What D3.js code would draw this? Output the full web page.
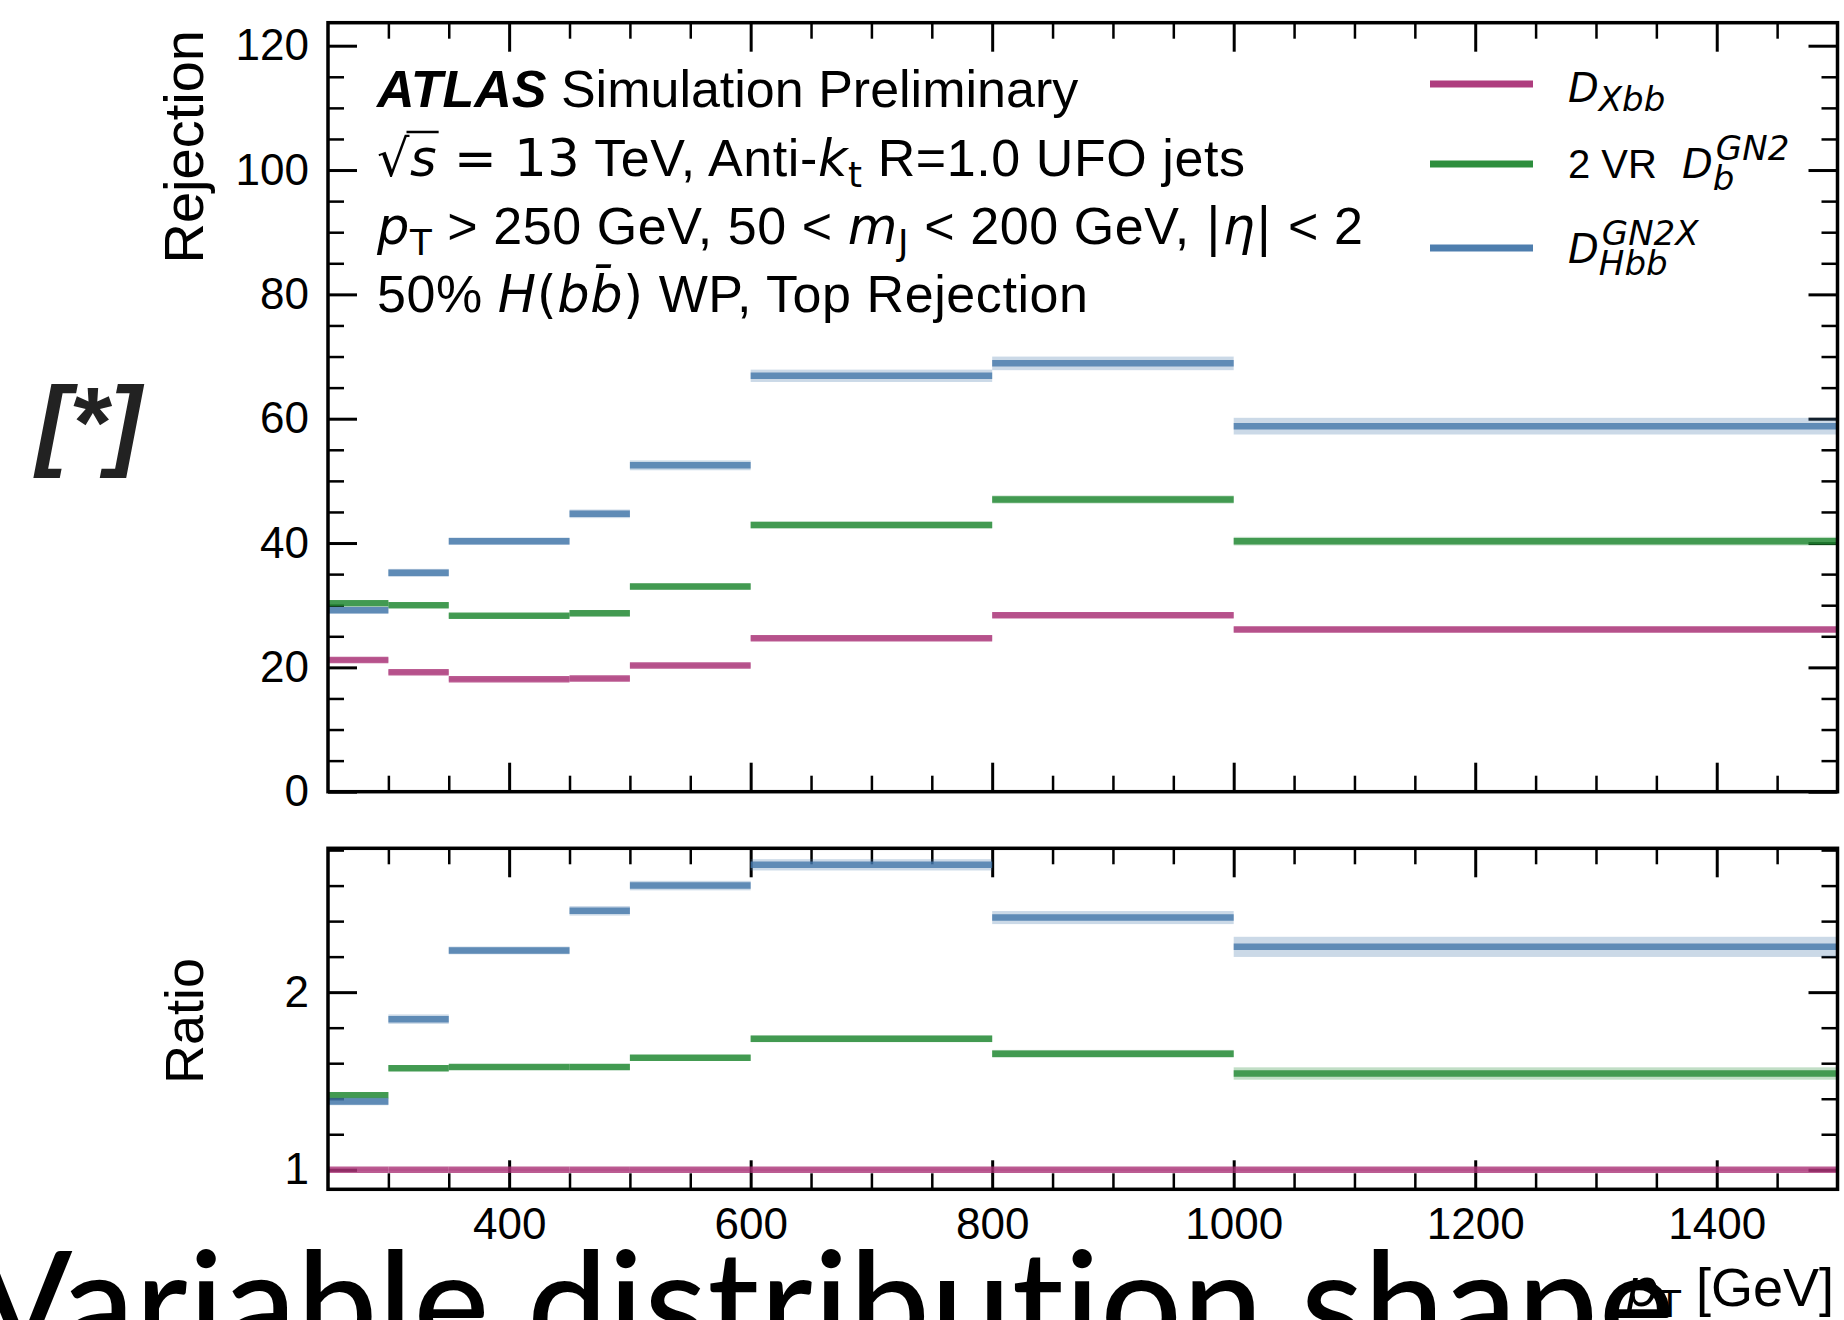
<!DOCTYPE html>
<html><head><meta charset="utf-8">
<script src="https://cdn.jsdelivr.net/npm/d3@7"></script>
<style>
body{margin:0;background:#fff}
svg{display:block}
text{font-family:"Liberation Sans",Arial,Helvetica,sans-serif;fill:#000}
</style>
</head><body>
<svg id="c" width="1844" height="1320"></svg>
<script>
// ---------------- data ----------------
const binEdges = [250, 300, 350, 450, 500, 600, 800, 1000, 1500];
const seriesLabels = ["Dxbb", "GN2", "GN2X"];
const seriesColors = ["#AA3377", "#228833", "#4477AA"];

const rejDxbb = [21.2, 19.2, 18.1, 18.2, 20.3, 24.7, 28.4, 26.1];
const rejGN2  = [30.3, 30.0, 28.3, 28.7, 33.0, 42.9, 47.0, 40.3];
const rejGN2X = [29.2, 35.2, 40.3, 44.7, 52.5, 66.9, 68.9, 58.8];

const errDxbb = [0.15, 0.15, 0.1, 0.15, 0.15, 0.2, 0.25, 0.25];
const errGN2  = [0.25, 0.25, 0.2, 0.3, 0.3, 0.35, 0.45, 0.5];
const errGN2X = [0.35, 0.45, 0.4, 0.5, 0.6, 0.8, 0.9, 1.15];

const ratioDxbb = [1, 1, 1, 1, 1, 1, 1, 1];
const ratioGN2  = [1.42, 1.572, 1.578, 1.578, 1.630, 1.737, 1.653, 1.542];
const ratioGN2X = [1.385, 1.848, 2.235, 2.458, 2.600, 2.717, 2.420, 2.255];

const ratioErrDxbb = [0, 0, 0, 0, 0, 0, 0, 0];
const ratioErrGN2  = [0.01, 0.01, 0.008, 0.01, 0.01, 0.012, 0.015, 0.028];
const ratioErrGN2X = [0.015, 0.02, 0.015, 0.02, 0.02, 0.025, 0.03, 0.05];

const xMajorTicks = [400, 600, 800, 1000, 1200, 1400];
const xMinorTicks = [300, 350, 450, 500, 550, 650, 700, 750, 850, 900, 950, 1050, 1100, 1150, 1250, 1300, 1350, 1450];
const yTopMajorTicks = [0, 20, 40, 60, 80, 100, 120];
const yTopMinorTicks = [5, 10, 15, 25, 30, 35, 45, 50, 55, 65, 70, 75, 85, 90, 95, 105, 110, 115];
const yRatioMajorTicks = [1, 2];
const yRatioMinorTicks = [1.2, 1.4, 1.6, 1.8, 2.2, 2.4, 2.6, 2.8];

const xDomain = [250, 1500];
const yTopDomain = [0, 123.7];
const yRatioDomain = [0.89, 2.81];

// ---------------- drawing ----------------
const svg = d3.select("#c");
svg.append("rect").attr("width", 1844).attr("height", 1320).attr("fill", "#fff");

const X0 = 328, X1 = 1837.5;
const x = d3.scaleLinear().domain(xDomain).range([X0, X1]);
const yTop = d3.scaleLinear().domain(yTopDomain).range([791.7, 22.7]);
const yRat = d3.scaleLinear().domain(yRatioDomain).range([1189.3, 848.3]);

const TICK_FS = 44, LABEL_FS = 54;
const MATH = '"DejaVu Sans", sans-serif';

function styleAxis(g, w) {
  g.select(".domain").remove();
  g.selectAll(".tick line").attr("stroke", "#000").attr("stroke-width", w);
  g.selectAll("text").attr("font-size", TICK_FS).attr("fill", "#000")
    .attr("font-family", '"Liberation Sans",Arial,sans-serif');
}

function panel(y, yMaj, yMin, showX) {
  const top = y.range()[1], bot = y.range()[0];
  const ga = svg.append("g");
  ga.append("g").attr("transform", `translate(0,${bot})`)
    .call(d3.axisBottom(x).tickValues(xMajorTicks).tickSize(-29).tickPadding(18.5)
      .tickFormat(showX ? d3.format("d") : () => ""))
    .call(g => styleAxis(g, 3));
  ga.append("g").attr("transform", `translate(0,${bot})`)
    .call(d3.axisBottom(x).tickValues(xMinorTicks).tickSize(-16).tickFormat(() => ""))
    .call(g => styleAxis(g, 2.5));
  ga.append("g").attr("transform", `translate(0,${top})`)
    .call(d3.axisTop(x).tickValues(xMajorTicks).tickSize(-29).tickFormat(() => ""))
    .call(g => styleAxis(g, 3));
  ga.append("g").attr("transform", `translate(0,${top})`)
    .call(d3.axisTop(x).tickValues(xMinorTicks).tickSize(-16).tickFormat(() => ""))
    .call(g => styleAxis(g, 2.5));
  ga.append("g").attr("transform", `translate(${X0},0)`)
    .call(d3.axisLeft(y).tickValues(yMaj).tickSize(-29).tickPadding(19).tickFormat(d3.format("d")))
    .call(g => styleAxis(g, 3));
  ga.append("g").attr("transform", `translate(${X0},0)`)
    .call(d3.axisLeft(y).tickValues(yMin).tickSize(-16).tickFormat(() => ""))
    .call(g => styleAxis(g, 2.5));
  ga.append("g").attr("transform", `translate(${X1},0)`)
    .call(d3.axisRight(y).tickValues(yMaj).tickSize(-29).tickFormat(() => ""))
    .call(g => styleAxis(g, 3));
  ga.append("g").attr("transform", `translate(${X1},0)`)
    .call(d3.axisRight(y).tickValues(yMin).tickSize(-16).tickFormat(() => ""))
    .call(g => styleAxis(g, 2.5));
}

function drawSeries(y, vals, errs, color) {
  const g = svg.append("g");
  const bins = vals.map((v, i) => ({ lo: binEdges[i], hi: binEdges[i + 1], v, e: errs[i] }));
  g.selectAll("rect.band").data(bins).join("rect").attr("class", "band")
    .attr("x", d => x(d.lo)).attr("width", d => x(d.hi) - x(d.lo))
    .attr("y", d => y(d.v + d.e) - 1.2).attr("height", d => y(d.v - d.e) - y(d.v + d.e) + 2.4)
    .attr("fill", color).attr("opacity", 0.28);
  g.selectAll("line.val").data(bins).join("line").attr("class", "val")
    .attr("x1", d => x(d.lo)).attr("x2", d => x(d.hi))
    .attr("y1", d => y(d.v)).attr("y2", d => y(d.v))
    .attr("stroke", color).attr("stroke-width", 6.5).attr("stroke-opacity", 0.8);
}

panel(yTop, yTopMajorTicks, yTopMinorTicks, false);
panel(yRat, yRatioMajorTicks, yRatioMinorTicks, true);

const topVals = [rejDxbb, rejGN2, rejGN2X], topErrs = [errDxbb, errGN2, errGN2X];
const ratVals = [ratioDxbb, ratioGN2, ratioGN2X], ratErrs = [ratioErrDxbb, ratioErrGN2, ratioErrGN2X];
seriesLabels.forEach((s, i) => {
  drawSeries(yTop, topVals[i], topErrs[i], seriesColors[i]);
  drawSeries(yRat, ratVals[i], ratErrs[i], seriesColors[i]);
});

[yTop, yRat].forEach(y => {
  svg.append("rect").attr("x", X0).attr("y", y.range()[1])
    .attr("width", X1 - X0).attr("height", y.range()[0] - y.range()[1])
    .attr("fill", "none").attr("stroke", "#000").attr("stroke-width", 3.5);
});

// rich text helper: segments {t, it, b, sub, sup, m (math font), back, dx}
function rich(parent, px, py, segs, size, anchor, mathSize, scr, fitWidth) {
  const t = parent.append("text").attr("x", px).attr("y", py)
    .attr("font-size", size).attr("text-anchor", anchor || "start");
  let cur = 0, prevLen = 0;
  const ms = mathSize || size, sc = scr || 0.7;
  segs.forEach(s => {
    const sp = t.append("tspan").text(s.t);
    const base = s.m ? ms : size;
    let target = 0, fs = base;
    if (s.sub) { target = base * (s.subShift || 0.22); fs = base * sc; }
    if (s.sup) { target = -base * (s.supShift || 0.42); fs = base * sc; }
    sp.attr("dy", target - cur); cur = target;
    sp.attr("font-size", fs);
    if (s.m) sp.attr("font-family", MATH);
    if (s.it) sp.attr("font-style", "italic");
    if (s.b) sp.attr("font-weight", "bold");
    let dx = s.dx || 0;
    if (s.back) dx -= prevLen;
    if (dx) sp.attr("dx", dx);
    prevLen = sp.node().getComputedTextLength();
  });
  if (fitWidth) t.attr("textLength", fitWidth).attr("lengthAdjust", "spacing");
  return t;
}

// info text
const info = svg.append("g");
const INFO_FS = 52, INFO_M = 51, IX = 377;
const infoWidths = [700, 868, 986, 711];
rich(info, IX, 107, [{ t: "ATLAS", it: 1, b: 1 }, { t: " Simulation Preliminary" }], INFO_FS);
const l2 = rich(info, IX, 176, [
  { t: "\u221A", m: 1 }, { t: "s", it: 1, m: 1 }, { t: " = 13", m: 1 }, { t: " TeV, Anti-" },
  { t: "k", it: 1, m: 1 }, { t: "t", sub: 1, m: 1 }, { t: " R=1.0 UFO jets" }], INFO_FS, null, INFO_M, null, infoWidths[1]);
{
  const n = l2.node();
  const e0 = n.getExtentOfChar(0), e1 = n.getExtentOfChar(1);
  info.append("line").attr("x1", e0.x + e0.width - 3).attr("x2", e1.x + e1.width + 2)
    .attr("y1", e0.y + 3).attr("y2", e0.y + 3)
    .attr("stroke", "#000").attr("stroke-width", 2.4);
}
rich(info, IX, 244, [
  { t: "p", it: 1, m: 1 }, { t: "T", sub: 1, m: 1 }, { t: " > 250 GeV, 50 < " },
  { t: "m", it: 1, m: 1 }, { t: "J", sub: 1, m: 1 }, { t: " < 200 GeV, " },
  { t: "|", m: 1 }, { t: "\u03B7", it: 1, m: 1 }, { t: "|", m: 1 }, { t: " < 2" }], INFO_FS, null, INFO_M, null, infoWidths[2]);
rich(info, IX, 312, [
  { t: "50% " }, { t: "H", it: 1, m: 1 }, { t: "(", m: 1 }, { t: "b", it: 1, m: 1 },
  { t: "b\u0304", it: 1, m: 1 }, { t: ")", m: 1 }, { t: " WP, Top Rejection" }], INFO_FS, null, INFO_M, null, infoWidths[3]);

// legend
const leg = svg.append("g");
const LEG_FS = 40, LEG_M = 40;
const legY = [84, 164, 248];
const legText = [
  [{ t: "D", it: 1, m: 1 }, { t: "Xbb", it: 1, m: 1, sub: 1, subShift: 0.22 }],
  [{ t: "2 VR " }, { t: "D", it: 1, m: 1, dx: 14 }, { t: "b", it: 1, m: 1, sub: 1, subShift: 0.3 },
   { t: "GN2", it: 1, m: 1, sup: 1, supShift: 0.45, back: 1, dx: 3 }],
  [{ t: "D", it: 1, m: 1 }, { t: "Hbb", it: 1, m: 1, sub: 1, subShift: 0.3 },
   { t: "GN2X", it: 1, m: 1, sup: 1, supShift: 0.45, back: 1, dx: 3 }]
];
const legBase = [102, 178, 263];
seriesLabels.forEach((s, i) => {
  leg.append("line").attr("x1", 1430).attr("x2", 1533).attr("y1", legY[i]).attr("y2", legY[i])
    .attr("stroke", seriesColors[i]).attr("stroke-width", 7).attr("stroke-opacity", 0.95);
  rich(leg, 1568, legBase[i], legText[i], LEG_FS, "start", LEG_M, 0.85);
});

// axis labels
svg.append("text").attr("transform", "translate(203,30) rotate(-90)")
  .attr("text-anchor", "end").attr("font-size", 56).text("Rejection");
svg.append("text").attr("transform", "translate(203,1021) rotate(-90)")
  .attr("text-anchor", "middle").attr("font-size", LABEL_FS).text("Ratio");

// slide overlay texts
svg.append("text").attr("x", 36).attr("y", 457).attr("font-size", 100)
  .attr("font-style", "italic").attr("font-weight", "bold")
  .style("fill", "#222").text("[*]");
svg.append("text").attr("x", -25).attr("y", 1354).attr("font-size", 143)
  .style("font-family", "Lato, 'Open Sans', sans-serif").attr("font-weight", 500)
  .style("font-variant-ligatures", "none").attr("letter-spacing", 1)
  .text("Variable distribution shape");

rich(svg, 1834, 1306, [{ t: "p", it: 1, m: 1 }, { t: "T", sub: 1, m: 1 }, { t: " [GeV]" }], LABEL_FS, "end", 52);
</script>
</body></html>
